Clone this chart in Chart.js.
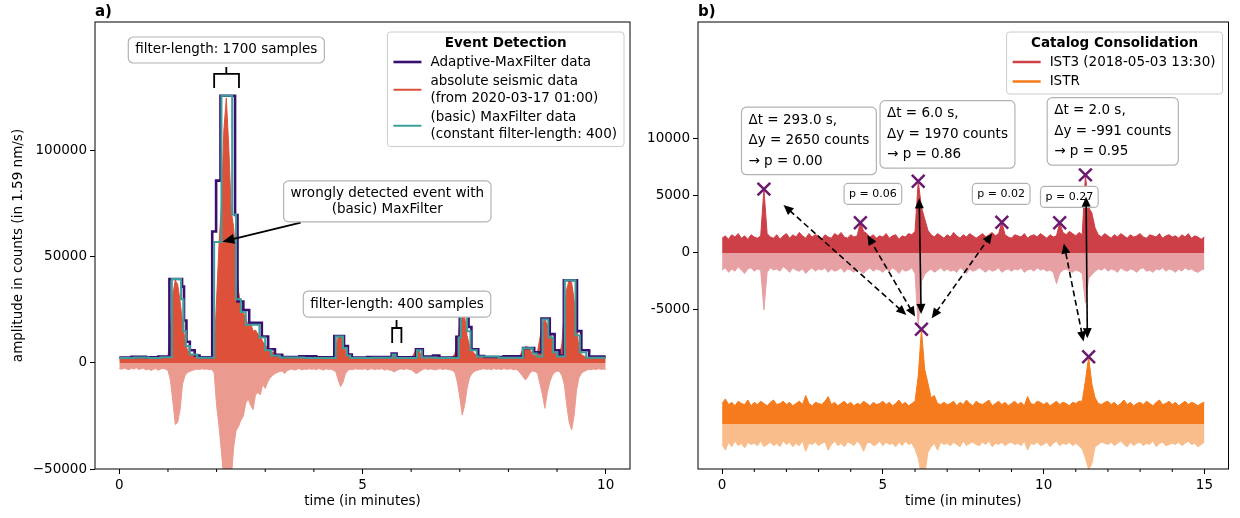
<!DOCTYPE html>
<html>
<head>
<meta charset="utf-8">
<script src="https://cdn.jsdelivr.net/npm/chart.js@4"></script>
<style>
  body { margin: 0; background: #fff; }
  #wrap { position: relative; width: 1240px; height: 518px; }
  #leftChart { position: absolute; left: 0; top: 0; }
  #rightChart { position: absolute; left: 640px; top: 0; }
</style>
</head>
<body>
<div id="wrap">
  <canvas id="leftChart" width="640" height="518"></canvas>
  <canvas id="rightChart" width="600" height="518"></canvas>
</div>
<script>
// ---- panel a) data, sampled every 0.05 min ----
const leftStep = 0.05;
const leftAbsTop = [
  2300,2100,2400,2000,2200,2500,2100,2300,2600,2200,
  2000,2400,2300,2100,2500,2200,2400,2000,2300,2600,
  2800,15000,32000,39000,37000,29000,19000,11000,6000,4500,
  3800,3200,2600,2400,2200,2300,2000,2400,2600,5000,
  30000,56000,75000,110000,125000,102000,72000,64000,48000,34000,
  27000,24000,21000,17500,19000,15000,15500,13500,12500,10000,
  8500,7000,6200,5200,4800,3900,3400,3000,2800,2600,
  2400,2200,2500,2100,2300,2000,2400,2200,2100,2300,
  2500,2000,2200,2400,2100,2300,2600,2200,3500,8000,
  12000,12500,10000,6000,4000,3000,2600,2300,2100,2400,
  2200,2000,2300,2500,2100,2200,2400,2000,2300,2200,
  2100,2300,3500,4500,3200,2600,2400,2200,2500,2300,
  2600,4000,6500,6500,4000,2800,2400,2200,2500,2300,
  3000,2800,2300,2100,2400,2200,2500,2800,4500,9000,
  19000,24000,22000,13000,8000,6000,4500,3500,2800,2500,
  2200,2400,2000,2300,2100,2500,2200,2400,2300,2000,
  2600,2200,2400,2300,2500,4000,6500,7700,7500,6000,
  4000,3500,5500,12000,19000,20500,18000,15000,11000,6000,
  4000,3500,9000,25000,35000,39000,38000,30000,18000,7000,
  4000,3300,2800,2500,2300,2600,2200,2400,2500,2300,
  2400
];
const leftRawBottom = [
  -2600,-3000,-2400,-2800,-3200,-2500,-2900,-2300,-3100,-2700,
  -2500,-3300,-2800,-3600,-3000,-2600,-3400,-2900,-2500,-3000,
  -3500,-8000,-18000,-29000,-28000,-22000,-10000,-6000,-4500,-4000,
  -3500,-3200,-2900,-3100,-2700,-3000,-2800,-3200,-3000,-4700,
  -20000,-30000,-42000,-55000,-55000,-55000,-55000,-40000,-32000,-30000,
  -27000,-25000,-19000,-17000,-20000,-22000,-15000,-14000,-15000,-10000,
  -12000,-9000,-7000,-6000,-5000,-4500,-4000,-3800,-5000,-3500,
  -3200,-2800,-3400,-3000,-2600,-3300,-2900,-3100,-2700,-3000,
  -2800,-3200,-2600,-3000,-3400,-2700,-3100,-2900,-3500,-4000,
  -8000,-11200,-9000,-5000,-3500,-3000,-3200,-2700,-3000,-2800,
  -3100,-2600,-3300,-2900,-2700,-3200,-2800,-3000,-2600,-3400,
  -2900,-3300,-3600,-4200,-3500,-3000,-2800,-3100,-2700,-3000,
  -3200,-4000,-5000,-4500,-3600,-3000,-2700,-3100,-2800,-3000,
  -3300,-2900,-2700,-3100,-2800,-3000,-3200,-3500,-4500,-9000,
  -16000,-24500,-20000,-12000,-7000,-5000,-4000,-3500,-3200,-2900,
  -2700,-3000,-2800,-3200,-2600,-3000,-2800,-3100,-2700,-2900,
  -3000,-2700,-3200,-3000,-3500,-5000,-6500,-8000,-6500,-4500,
  -3800,-4000,-5000,-10000,-15000,-21400,-14000,-9000,-6000,-4500,
  -3800,-4000,-6000,-10000,-20000,-28000,-31600,-25000,-13000,-7000,
  -5000,-4000,-3500,-3000,-3200,-2800,-3100,-2700,-3000,-2900,
  -3000
];
// step functions: value holds from its time until the next time
const adaptiveTime = [0,0.25,0.55,0.8,1.03,1.29,1.33,1.38,1.45,1.55,1.65,1.91,1.99,2.08,2.38,2.43,2.55,2.67,2.93,3.06,3.2,3.35,3.7,4.05,4.42,4.62,4.7,4.78,5.1,5.6,5.7,6.1,6.24,6.45,6.58,6.93,7.0,7.18,7.24,7.38,7.5,7.9,8.3,8.53,8.68,8.85,8.95,9.05,9.14,9.41,9.5,9.66,10];
const adaptiveValue = [2600,2900,2700,3000,39600,36000,20000,10000,6000,3500,2700,62000,86000,126000,69800,29000,25000,19000,12500,6500,3800,2800,3100,2700,12700,8000,4000,2500,2800,4400,2700,6500,3000,3500,2600,12400,23500,17000,6500,3300,2800,3100,7000,5000,21000,13600,6000,3500,39000,15000,6000,3000,3000];
const basicTime = [0,0.3,0.6,0.85,1.08,1.27,1.32,1.37,1.45,1.6,1.95,2.1,2.32,2.4,2.5,2.6,2.88,3.0,3.12,3.3,3.8,4.45,4.6,4.68,4.75,5.2,5.62,5.68,6.12,6.22,6.5,6.98,7.02,7.15,7.22,7.35,7.8,8.3,8.5,8.58,8.7,8.82,8.92,9.0,9.16,9.38,9.47,9.6,10];
const basicValue = [2300,2600,2400,2700,39600,30000,15000,8000,4000,2500,57000,126000,70000,30000,24000,18000,12000,6000,3500,2600,2400,12500,7000,3500,2300,2500,4000,2300,6000,2600,2400,12000,23500,15000,6000,3000,2500,7000,4500,3000,20500,12000,5000,3000,39000,13000,5000,2500,2500];

// ---- panel b) data, sampled every 0.1 min ----
const rightStep = 0.1;
const istrOffset = -15000;
const ist3Top = [
  1300,1500,1200,1600,1400,1700,1300,1500,1200,1600,
  1400,1300,1500,5600,1700,1400,1300,1600,1200,1500,
  1700,1300,1600,1400,1800,1500,1300,1700,1400,1600,
  1500,1200,1600,1400,1300,1700,1500,1800,1400,1300,
  1600,1400,1500,2700,1900,1700,1400,1600,1300,1500,
  1400,1700,1300,1500,1600,1200,1500,1400,1700,1600,
  1900,6300,4000,3000,2000,1600,1400,1700,1500,1300,
  1600,1400,1800,1500,1300,1600,1400,1700,1500,1300,
  1500,1700,1400,1600,1800,1500,1700,2700,1600,1400,
  1300,1600,1500,1400,1700,1300,1500,1600,1400,1700,
  1500,1300,1600,1400,1500,2650,1800,1600,1900,1700,
  1500,1800,1600,6850,4000,3500,2200,1600,1400,1700,
  1500,1300,1600,1400,1700,1500,1300,1600,1400,1500,
  1700,1400,1300,1600,1500,1400,1700,1300,1500,1600,
  1400,1500,1300,1600,1400,1700,1300,1500,1400,1200,
  1400
];
const ist3Bottom = [
  -1500,-1300,-1700,-1400,-1600,-1200,-1500,-1800,-1400,-1300,
  -1600,-1400,-1500,-5000,-1700,-1300,-1500,-1400,-1600,-1200,
  -1400,-1700,-1300,-1500,-1600,-1400,-1800,-1500,-1300,-1600,
  -1400,-1500,-1300,-1700,-1400,-1600,-1500,-1300,-1700,-1400,
  -1500,-1700,-1400,-1600,-1800,-1500,-1300,-1600,-1400,-1500,
  -1700,-1400,-1600,-1300,-1500,-1800,-1400,-1600,-1500,-1300,
  -1800,-6500,-2500,-1900,-1600,-1400,-1700,-1500,-1300,-1600,
  -1400,-1600,-1500,-1700,-1300,-1500,-1800,-1400,-1600,-1500,
  -1300,-1500,-1700,-1400,-1600,-1500,-1300,-1700,-1500,-1400,
  -1600,-1400,-1500,-1300,-1700,-1500,-1400,-1600,-1300,-1500,
  -1400,-1600,-1500,-1700,-2700,-1800,-1500,-1400,-1600,-1700,
  -1500,-1600,-1800,-4400,-2200,-1900,-1600,-1400,-1500,-1300,
  -1600,-1400,-1500,-1700,-1300,-1500,-1600,-1400,-1500,-1700,
  -1400,-1300,-1600,-1500,-1700,-1400,-1500,-1300,-1600,-1400,
  -1500,-1700,-1400,-1600,-1300,-1500,-1400,-1600,-1700,-1500,
  -1400
];
const istrTop = [
  1800,2200,1700,1900,1600,2000,1800,1700,2100,1600,
  1900,1700,2000,1800,1600,1900,2100,1700,1800,2000,
  1700,1900,1600,1800,2000,1700,2500,1800,1600,1900,
  1800,1700,2000,2400,1700,1900,1600,1800,2000,1700,
  1900,1600,1800,1700,2000,1800,1600,1900,1700,1800,
  2000,1700,1900,1600,1800,2100,1700,1900,1600,1800,
  2000,4200,8300,4800,3600,2300,2500,1800,1700,1900,
  1700,1800,2000,1600,1900,1700,2100,1800,1600,2000,
  1800,1700,1900,2100,1600,1800,2000,1700,1900,1600,
  1800,2000,1700,1900,1600,2400,1800,1700,2000,1900,
  1700,1900,1600,1800,2000,1700,1900,1800,1600,1900,
  1800,2000,2000,3800,5900,3500,2300,1800,1700,1900,
  2000,1700,1900,1600,1800,2100,1700,1900,1600,1800,
  1900,1700,2000,1800,1600,1900,2100,1700,1800,2000,
  1700,1900,1600,1800,2000,1700,1900,1800,1600,1800,
  1900
];
const istrBottom = [
  -1800,-2300,-1600,-2000,-1500,-1900,-1700,-2100,-1600,-1800,
  -1700,-1900,-1500,-2000,-1800,-1600,-1900,-1700,-2000,-1500,
  -1800,-1600,-2000,-1700,-1900,-1500,-2400,-1700,-1800,-1600,
  -1900,-1700,-1600,-2300,-1800,-1500,-1900,-1700,-2000,-1600,
  -1700,-1900,-1500,-1800,-2400,-1700,-1600,-1900,-1800,-1500,
  -1900,-1600,-1800,-1700,-2000,-1600,-1900,-1500,-1800,-1700,
  -2200,-3000,-4500,-4500,-2500,-2000,-1700,-2300,-1600,-1800,
  -1700,-1900,-1600,-1800,-2000,-1500,-1900,-1700,-1600,-1800,
  -1900,-1600,-1800,-1500,-2000,-1700,-1800,-1600,-1900,-1700,
  -1600,-1800,-1700,-1900,-1500,-2300,-1700,-1800,-1600,-1900,
  -1800,-1600,-2000,-1700,-1500,-1900,-1700,-1800,-1600,-1900,
  -1700,-1900,-2200,-3000,-4000,-3500,-2000,-1800,-1600,-1700,
  -1800,-1600,-1900,-1700,-1500,-1800,-2000,-1600,-1900,-1700,
  -1600,-1900,-1700,-1800,-1500,-2000,-1700,-1600,-1900,-1800,
  -1700,-1800,-1600,-1900,-1700,-1500,-1800,-1700,-2000,-1800,
  -1600
];
const ist3PickTime = [1.3, 4.3, 6.1, 8.7, 10.5, 11.3];
const ist3PickAmp = [5600, 2650, 6300, 2700, 2650, 6850];
const istrPickTime = [6.2, 11.4];
const istrPickAmp = [8300, 5900];

// ---- look ----
const FONT = "13.5px 'DejaVu Sans'";
const BOLD = "bold 13.5px 'DejaVu Sans'";
const SMALL = "11px 'DejaVu Sans'";
const purple = "#3b0f70", red = "#dd513a", redLight = "#eb9a8f", teal = "#3c9f9c";
const ist3Color = "#cd4048", ist3Light = "#e7a0a4", istrColor = "#f57b1c", istrLight = "#f9bd8c";
const pickColor = "#6a1b6f";

Chart.defaults.font.family = "'DejaVu Sans', sans-serif";
Chart.defaults.font.size = 13.5;
Chart.defaults.color = "#000";

const pts = (ts, vs) => ts.map((t, i) => ({ x: t, y: vs[i] }));
const leftTime = leftAbsTop.map((_, i) => i * leftStep);
const rightTime = ist3Top.map((_, i) => i * rightStep);

function head(ctx, x, y, ang, L, W) {
  const c = Math.cos(ang), s = Math.sin(ang);
  ctx.beginPath();
  ctx.moveTo(x, y);
  ctx.lineTo(x - L * c + W * s, y - L * s - W * c);
  ctx.lineTo(x - L * c - W * s, y - L * s + W * c);
  ctx.closePath();
  ctx.fill();
}

function drawArrow(ctx, x1, y1, x2, y2, ar) {
  const L = ar.head || 10, W = ar.headW || 4.5;
  const ang = Math.atan2(y2 - y1, x2 - x1);
  const c = Math.cos(ang), s = Math.sin(ang);
  let sx = x1, sy = y1;
  if (ar.both) { sx += c * L * 0.8; sy += s * L * 0.8; }
  ctx.strokeStyle = "#000";
  ctx.fillStyle = "#000";
  ctx.lineWidth = ar.width || 1.6;
  ctx.setLineDash(ar.dashed ? [6, 3.5] : []);
  ctx.beginPath();
  ctx.moveTo(sx, sy);
  ctx.lineTo(x2 - c * L * 0.8, y2 - s * L * 0.8);
  ctx.stroke();
  ctx.setLineDash([]);
  head(ctx, x2, y2, ang, L, W);
  if (ar.both) head(ctx, x1, y1, ang + Math.PI, L, W);
}

function drawBox(ctx, cx, cy, b) {
  ctx.font = b.font || FONT;
  const tw = Math.max(...b.lines.map(l => ctx.measureText(l).width));
  const w = tw + 2 * b.padX, h = b.lines.length * b.lineH + 2 * b.padY;
  ctx.beginPath();
  ctx.roundRect(cx - w / 2, cy - h / 2, w, h, b.radius || 5);
  ctx.fillStyle = "#fff";
  ctx.fill();
  ctx.strokeStyle = "#b3b3b3";
  ctx.lineWidth = 1.2;
  ctx.stroke();
  ctx.fillStyle = "#000";
  ctx.textBaseline = "middle";
  ctx.textAlign = b.align === "left" ? "left" : "center";
  const tx = b.align === "left" ? cx - w / 2 + b.padX : cx;
  b.lines.forEach((l, i) => ctx.fillText(l, tx, cy - h / 2 + b.padY + b.lineH * (i + 0.5)));
}

function drawLegend(ctx, a, lg) {
  ctx.font = FONT;
  const all = lg.items.flatMap(it => it.lines);
  const tw = Math.max(...all.map(l => ctx.measureText(l).width));
  const w = 43 + tw + 7;
  const x0 = a.right - 6 - w, y0 = a.top + 10;
  let y = y0 + 30;
  const rows = lg.items.map((it, k) => {
    if (k) y += 19.5;
    const ys = it.lines.map((_, i) => y + i * 16.5);
    y = ys[ys.length - 1];
    return ys;
  });
  const h = y + 12.5 - y0;
  ctx.beginPath();
  ctx.roundRect(x0, y0, w, h, 3);
  ctx.fillStyle = "rgba(255,255,255,0.85)";
  ctx.fill();
  ctx.strokeStyle = "#cccccc";
  ctx.lineWidth = 1;
  ctx.stroke();
  ctx.fillStyle = "#000";
  ctx.textBaseline = "middle";
  ctx.textAlign = "center";
  ctx.font = BOLD;
  ctx.fillText(lg.title, x0 + w / 2, y0 + 11.5);
  ctx.font = FONT;
  ctx.textAlign = "left";
  lg.items.forEach((it, k) => {
    const ys = rows[k];
    const ly = (ys[0] + ys[ys.length - 1]) / 2;
    ctx.strokeStyle = it.color;
    ctx.lineWidth = it.width;
    ctx.beginPath();
    ctx.moveTo(x0 + 6, ly);
    ctx.lineTo(x0 + 34, ly);
    ctx.stroke();
    ctx.fillStyle = "#000";
    it.lines.forEach((l, i) => ctx.fillText(l, x0 + 43, ys[i]));
  });
}

// frame, minor ticks, panel label, notes, arrows, legend
const overlay = {
  id: "overlay",
  afterDraw(chart, args, o) {
    const ctx = chart.ctx, a = chart.chartArea;
    const X = t => chart.scales.x.getPixelForValue(t);
    const Y = v => chart.scales.y.getPixelForValue(v);
    ctx.save();
    ctx.strokeStyle = "#000";
    ctx.lineWidth = 1;
    ctx.strokeRect(a.left, a.top, a.right - a.left, a.bottom - a.top);
    o.minorTicks.forEach(t => {
      ctx.beginPath();
      ctx.moveTo(X(t), a.bottom);
      ctx.lineTo(X(t), a.bottom + 3);
      ctx.stroke();
    });
    ctx.font = "bold 15px 'DejaVu Sans'";
    ctx.fillStyle = "#000";
    ctx.textAlign = "left";
    ctx.textBaseline = "alphabetic";
    ctx.fillText(o.label, a.left, a.top - 6);

    ctx.strokeStyle = "#000";
    ctx.lineWidth = 1.8;
    (o.brackets || []).forEach(br => {
      ctx.beginPath();
      ctx.moveTo(X(br.tm), Y(br.vTop));
      ctx.lineTo(X(br.tm), Y(br.vBar));
      ctx.moveTo(X(br.t0), Y(br.vEnd));
      ctx.lineTo(X(br.t0), Y(br.vBar));
      ctx.lineTo(X(br.t1), Y(br.vBar));
      ctx.lineTo(X(br.t1), Y(br.vEnd));
      ctx.stroke();
    });
    const arrows = () => (o.arrows || []).forEach(ar =>
      drawArrow(ctx, X(ar.from[0]), Y(ar.from[1]), X(ar.to[0]), Y(ar.to[1]), ar));
    if (!o.arrowsOnTop) arrows();
    (o.boxes || []).forEach(b => drawBox(ctx, X(b.at[0]), Y(b.at[1]), b));
    if (o.arrowsOnTop) arrows();
    drawLegend(ctx, a, o.legend);
    ctx.restore();
  }
};

function xAxis(min, max) {
  return {
    type: "linear", min: min, max: max,
    afterBuildTicks: s => { s.ticks = [0, 5, 10, 15].filter(v => v <= max).map(v => ({ value: v })); },
    afterFit: s => { s.height = 49; },
    ticks: { padding: 3, maxRotation: 0, autoSkip: false, callback: v => String(v) },
    grid: { drawOnChartArea: false, tickLength: 5, tickColor: "#000", tickWidth: 1 },
    border: { display: false },
    title: { display: true, text: "time (in minutes)", padding: { top: 2, bottom: 8 } }
  };
}

new Chart(document.getElementById("leftChart"), {
  type: "line",
  data: {
    datasets: [
      { label: "(basic) MaxFilter data", data: pts(basicTime, basicValue), borderColor: teal, borderWidth: 2, stepped: true, pointRadius: 0, fill: false, order: 0 },
      { label: "Adaptive-MaxFilter data", data: pts(adaptiveTime, adaptiveValue), borderColor: purple, borderWidth: 2.6, stepped: true, pointRadius: 0, fill: false, order: 1 },
      { label: "absolute seismic data", data: pts(leftTime, leftAbsTop), borderColor: red, backgroundColor: red, borderWidth: 1, pointRadius: 0, fill: "origin", order: 2 },
      { label: "seismic data", data: pts(leftTime, leftRawBottom), borderColor: redLight, backgroundColor: redLight, borderWidth: 1, pointRadius: 0, fill: "origin", order: 3 }
    ]
  },
  options: {
    responsive: false,
    animation: false,
    events: [],
    layout: { padding: { top: 22, right: 10, left: 0, bottom: 0 } },
    scales: {
      x: xAxis(-0.5, 10.5),
      y: {
        min: -50000, max: 160800,
        afterBuildTicks: s => { s.ticks = [-50000, 0, 50000, 100000].map(v => ({ value: v })); },
        afterFit: s => { s.width = 95; },
        ticks: { padding: 3, callback: v => v < 0 ? "\u2212" + Math.abs(v) : String(v) },
        grid: { drawOnChartArea: false, tickLength: 5, tickColor: "#000" },
        border: { display: false },
        title: { display: true, text: "amplitude in counts (in 1.59 nm/s)", padding: { top: 10, bottom: 4 } }
      }
    },
    plugins: {
      legend: { display: false },
      tooltip: { enabled: false },
      overlay: {
        label: "a)",
        minorTicks: [1, 2, 3, 4, 6, 7, 8, 9],
        legend: {
          title: "Event Detection",
          items: [
            { color: purple, width: 2.6, lines: ["Adaptive-MaxFilter data"] },
            { color: red, width: 2, lines: ["absolute seismic data", "(from 2020-03-17 01:00)"] },
            { color: teal, width: 2, lines: ["(basic) MaxFilter data", "(constant filter-length: 400)"] }
          ]
        },
        brackets: [
          { t0: 1.95, t1: 2.46, tm: 2.20, vTop: 139600, vBar: 136300, vEnd: 129700 },
          { t0: 5.61, t1: 5.80, tm: 5.70, vTop: 20300, vBar: 16500, vEnd: 9400 }
        ],
        arrows: [{ from: [3.73, 66200], to: [2.12, 57200], width: 1.8, head: 12, headW: 5 }],
        boxes: [
          { at: [2.20, 147600], lines: ["filter-length: 1700 samples"], lineH: 16, padX: 7, padY: 5 },
          { at: [5.51, 76200], lines: ["wrongly detected event with", "(basic) MaxFilter"], lineH: 15.7, padX: 7, padY: 4.8 },
          { at: [5.71, 27800], lines: ["filter-length: 400 samples"], lineH: 16, padX: 7, padY: 5 }
        ]
      }
    }
  },
  plugins: [overlay]
});

const pickStyle = { showLine: false, pointStyle: "crossRot", pointRadius: 9, pointBorderWidth: 2.5, pointBorderColor: pickColor, pointBackgroundColor: "rgba(0,0,0,0)", borderColor: pickColor, order: 0 };

new Chart(document.getElementById("rightChart"), {
  type: "line",
  data: {
    datasets: [
      Object.assign({ label: "IST3 picks", data: pts(ist3PickTime, ist3PickAmp) }, pickStyle),
      Object.assign({ label: "ISTR picks", data: pts(istrPickTime, istrPickAmp.map(v => v + istrOffset)) }, pickStyle),
      { label: "IST3 (2018-05-03 13:30)", data: pts(rightTime, ist3Top), borderColor: ist3Color, backgroundColor: ist3Color, borderWidth: 1, pointRadius: 0, fill: "origin", order: 1 },
      { label: "IST3 raw", data: pts(rightTime, ist3Bottom), borderColor: ist3Light, backgroundColor: ist3Light, borderWidth: 1, pointRadius: 0, fill: "origin", order: 2 },
      { label: "ISTR", data: pts(rightTime, istrTop.map(v => v + istrOffset)), borderColor: istrColor, backgroundColor: istrColor, borderWidth: 1, pointRadius: 0, fill: { value: istrOffset }, order: 3 },
      { label: "ISTR raw", data: pts(rightTime, istrBottom.map(v => v + istrOffset)), borderColor: istrLight, backgroundColor: istrLight, borderWidth: 1, pointRadius: 0, fill: { value: istrOffset }, order: 4 }
    ]
  },
  options: {
    responsive: false,
    animation: false,
    events: [],
    layout: { padding: { top: 22, right: 5, left: 0, bottom: 0 } },
    scales: {
      x: xAxis(-0.75, 15.75),
      y: {
        min: -18950, max: 20260,
        afterBuildTicks: s => { s.ticks = [-5000, 0, 5000, 10000].map(v => ({ value: v })); },
        afterFit: s => { s.width = 58; },
        ticks: { padding: 3, callback: v => String(v) },
        grid: { drawOnChartArea: false, tickLength: 5, tickColor: "#000" },
        border: { display: false }
      }
    },
    plugins: {
      legend: { display: false },
      tooltip: { enabled: false },
      overlay: {
        label: "b)",
        minorTicks: [1, 2, 3, 4, 6, 7, 8, 9, 11, 12, 13, 14],
        legend: {
          title: "Catalog Consolidation",
          items: [
            { color: ist3Color, width: 2.5, lines: ["IST3 (2018-05-03 13:30)"] },
            { color: istrColor, width: 2.5, lines: ["ISTR"] }
          ]
        },
        arrowsOnTop: true,
        boxes: [
          { at: [2.70, 9825], lines: ["\u0394t = 293.0 s,", "\u0394y = 2650 counts", "\u2192 p = 0.00"], align: "left", lineH: 20.5, padX: 7, padY: 3 },
          { at: [7.01, 10395], lines: ["\u0394t = 6.0 s,", "\u0394y = 1970 counts", "\u2192 p = 0.86"], align: "left", lineH: 20.5, padX: 7, padY: 3 },
          { at: [12.15, 10658], lines: ["\u0394t = 2.0 s,", "\u0394y = -991 counts", "\u2192 p = 0.95"], align: "left", lineH: 20.5, padX: 7, padY: 3 },
          { at: [4.69, 5175], lines: ["p = 0.06"], font: SMALL, lineH: 13, padX: 5, padY: 4, radius: 4 },
          { at: [8.68, 5175], lines: ["p = 0.02"], font: SMALL, lineH: 13, padX: 5, padY: 4, radius: 4 },
          { at: [10.80, 4912], lines: ["p = 0.27"], font: SMALL, lineH: 13, padX: 5, padY: 4, radius: 4 }
        ],
        arrows: [
          { from: [5.73, -5436], to: [1.91, 4206], dashed: true, both: true },
          { from: [6.0, -5581], to: [4.52, 1559], dashed: true, both: true },
          { from: [6.52, -5727], to: [8.4, 1706], dashed: true, both: true },
          { from: [11.24, -7762], to: [10.63, 824], dashed: true, both: true },
          { from: [6.19, -5349], to: [6.13, 4794], both: true },
          { from: [11.36, -7471], to: [11.32, 4941], both: true }
        ]
      }
    }
  },
  plugins: [overlay]
});
</script>
</body>
</html>
